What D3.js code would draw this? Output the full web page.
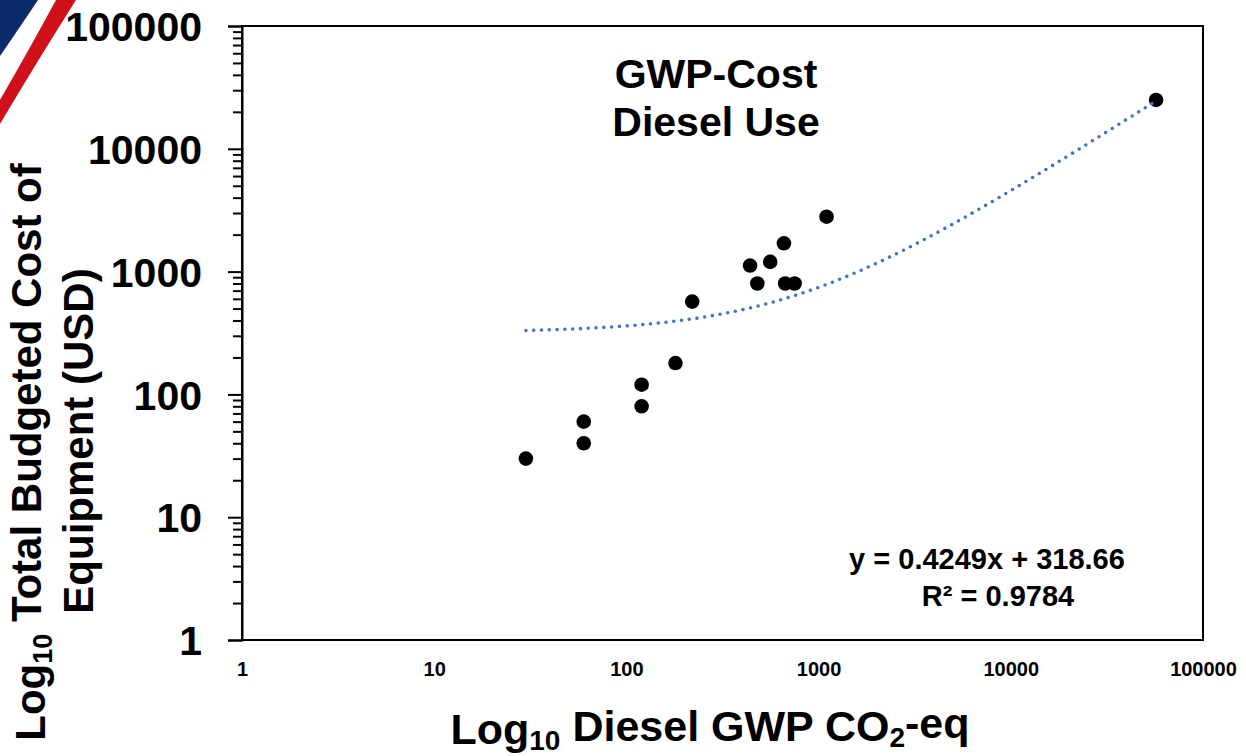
<!DOCTYPE html>
<html>
<head>
<meta charset="utf-8">
<script src="https://cdn.jsdelivr.net/npm/d3@7"></script>
<style>
  body { margin: 0; background: #fff; }
  text { font-family: "Liberation Sans", Arial, sans-serif; font-weight: bold; fill: #000; }
</style>
</head>
<body>
<div id="chart"></div>
<script>
// data
const gwp  = [30, 60, 60, 120, 120, 180, 220, 440, 480, 560, 660, 670, 750, 1100, 57000]
const cost = [30, 40, 60, 80, 120, 180, 570, 1120, 800, 1200, 1700, 800, 800, 2800, 25000]

const xTicks = [1, 10, 100, 1000, 10000, 100000]
const yTicks = [1, 10, 100, 1000, 10000, 100000]

// trendline shown on the chart
const slope = 0.4249, intercept = 318.66, r2 = 0.9784
const trendFrom = 30, trendTo = 57000

const W = 1246, H = 756
const margin = {top: 26, right: 43, bottom: 116, left: 242}
const width = W - margin.left - margin.right,
      height = H - margin.top - margin.bottom

const svgRoot = d3.select("#chart").append("svg")
  .attr("width", W).attr("height", H)

// slide decoration in the corner
const deco = svgRoot.append("g")
deco.append("path").attr("fill", "#0b2a6b")
  .attr("d", "M0,0 L38,0 Q18,30 0,56 Z")
deco.append("path").attr("fill", "#d0101b")
  .attr("d", "M56,0 L76,0 Q38,60 0,124 L0,100 Q30,48 56,0 Z")

const svg = svgRoot.append("g")
  .attr("transform", "translate(" + margin.left + "," + margin.top + ")")

const x = d3.scaleLog().domain([1, 100000]).range([0, width])
const y = d3.scaleLog().domain([1, 100000]).range([height, 0])

// frame
svg.append("rect")
  .attr("width", width).attr("height", height)
  .attr("fill", "none").attr("stroke", "#000").attr("stroke-width", 2)

// minor y ticks
const minor = []
yTicks.slice(0, -1).forEach(t => { for (let k = 2; k < 10; k++) minor.push(t * k) })
svg.append("g")
  .call(d3.axisLeft(y).tickValues(minor).tickSize(9).tickFormat(""))
  .call(g => g.select(".domain").remove())
  .selectAll("line").attr("stroke", "#000").attr("stroke-width", 2)

// major y ticks + labels
const yAxis = svg.append("g")
  .call(d3.axisLeft(y).tickValues(yTicks).tickSize(14).tickPadding(26).tickFormat(d3.format("d")))
yAxis.select(".domain").attr("stroke", "#000").attr("stroke-width", 2)
yAxis.selectAll("line").attr("stroke", "#000").attr("stroke-width", 2)
yAxis.selectAll("text").style("font-size", "41px").attr("dy", "0.36em")
  .style("font-family", "'Liberation Sans', Arial, sans-serif").style("font-weight", "bold")

// x labels (no tick marks)
const xAxis = svg.append("g")
  .attr("transform", "translate(0," + height + ")")
  .call(d3.axisBottom(x).tickValues(xTicks).tickSize(0).tickPadding(22).tickFormat(d3.format("d")))
xAxis.select(".domain").remove()
xAxis.selectAll("text").style("font-size", "20px")
  .style("font-family", "'Liberation Sans', Arial, sans-serif").style("font-weight", "bold")

// trendline (dotted), sampled along the log axis
const steps = 80
const trendPts = d3.range(steps + 1).map(i => {
  const xv = Math.exp(Math.log(trendFrom) + (Math.log(trendTo) - Math.log(trendFrom)) * i / steps)
  return [xv, slope * xv + intercept]
})

// points
svg.append("g").selectAll("circle")
  .data(gwp.map((g, i) => [g, cost[i]]))
  .join("circle")
    .attr("cx", d => x(d[0]))
    .attr("cy", d => y(d[1]))
    .attr("r", 7.3)
    .attr("fill", "#000")

svg.append("path")
  .datum(trendPts)
  .attr("fill", "none")
  .attr("stroke", "#4472c4")
  .attr("stroke-width", 3.6)
  .attr("stroke-linecap", "round")
  .attr("stroke-dasharray", "0,7.8")
  .attr("d", d3.line().x(d => x(d[0])).y(d => y(d[1])))

// title
const title = svg.append("text").attr("text-anchor", "middle").style("font-size", "41px")
title.append("tspan").attr("x", 716 - margin.left).attr("y", 88 - margin.top).text("GWP-Cost")
title.append("tspan").attr("x", 716 - margin.left).attr("y", 136 - margin.top).text("Diesel Use")

// equation
const eq = svg.append("text").attr("text-anchor", "middle").style("font-size", "29px")
eq.append("tspan").attr("x", 987 - margin.left).attr("y", 569 - margin.top)
  .text("y = " + slope + "x + " + intercept)
eq.append("tspan").attr("x", 998 - margin.left).attr("y", 606 - margin.top)
  .text("R² = " + r2)

// x axis title
const xt = svgRoot.append("text").attr("text-anchor", "middle")
  .attr("x", 710).attr("y", 744).style("font-size", "43px")
xt.append("tspan").text("Log")
xt.append("tspan").attr("dy", "0.2em").style("font-size", "28px").text("10")
xt.append("tspan").attr("dy", "-0.2em").text(" Diesel GWP CO")
xt.append("tspan").attr("dy", "0.2em").style("font-size", "28px").text("2")
xt.append("tspan").attr("dy", "-0.2em").text("-eq")

// y axis title (two lines)
const yt1 = svgRoot.append("text").attr("text-anchor", "middle")
  .attr("transform", "translate(45,452) rotate(-90)").style("font-size", "42px")
yt1.append("tspan").text("Log")
yt1.append("tspan").attr("dy", "0.25em").style("font-size", "27px").text("10")
yt1.append("tspan").attr("dy", "-0.25em").text(" Total Budgeted Cost of")

svgRoot.append("text").attr("text-anchor", "middle")
  .attr("transform", "translate(93,441) rotate(-90)").style("font-size", "42px")
  .text("Equipment (USD)")
</script>
</body>
</html>
